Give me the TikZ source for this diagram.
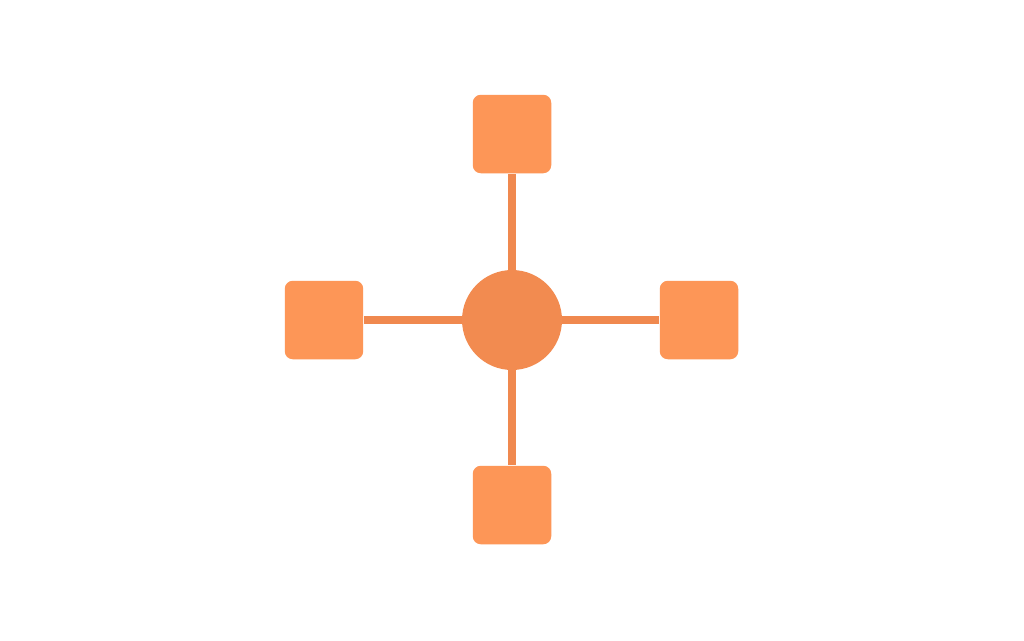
\documentclass[tikz,border=0pt]{standalone}
\usetikzlibrary{positioning,backgrounds}
\definecolor{hubfill}{HTML}{F28B50}
\definecolor{leaffill}{HTML}{FD9657}
\definecolor{linkcol}{HTML}{F0894F}
\tikzset{
  leaf/.style={fill=leaffill,draw=none,rounded corners=0.16cm,minimum size=1.57cm,inner sep=0pt},
  hub/.style={circle,fill=hubfill,draw=none,minimum size=2cm,inner sep=0pt},
  link/.style={draw=linkcol,line width=0.15cm}
}
\begin{document}
\begin{tikzpicture}[x=0.02cm,y=-0.02cm]
\useasboundingbox (0,0) rectangle (1024,640);
    \node[hub] (center) at (512,320) {};
    \node[leaf] (top) at (512,134) {};
    \node[leaf] (left) at (324,320) {};
    \node[leaf] (right) at (699,320) {};
    \node[leaf] (bottom) at (512,505) {};
\begin{scope}[on background layer]
    \fill[white] (0,0) rectangle (1024,640);
    \foreach \n in {top,left,right,bottom}
        \draw[link] (center) -- (\n);
\end{scope}
\end{tikzpicture}
\end{document}
